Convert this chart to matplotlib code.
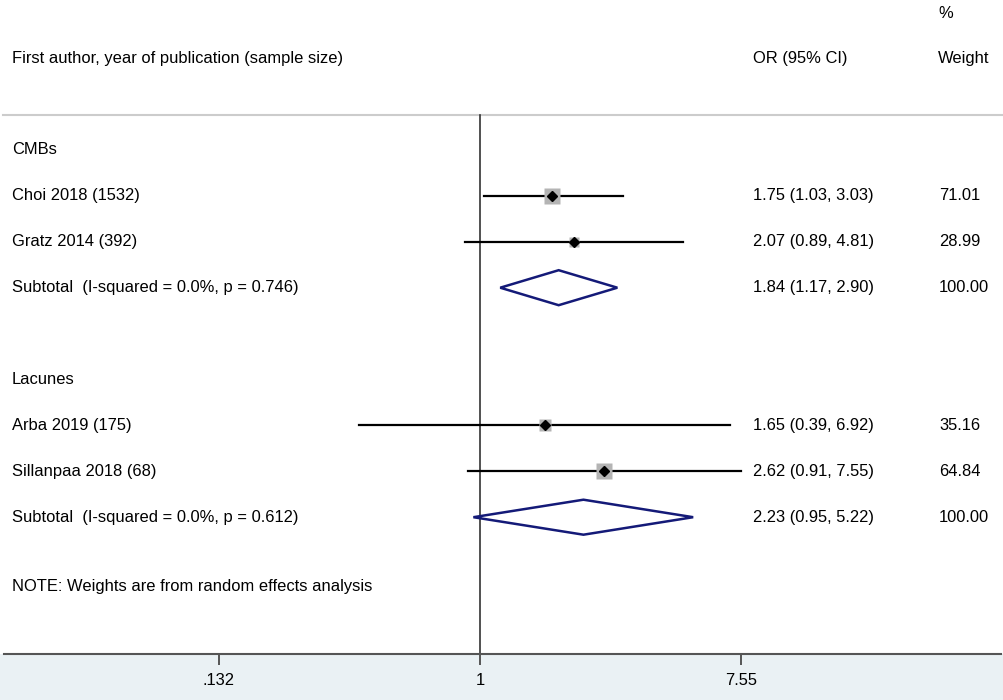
import numpy as np
import matplotlib
matplotlib.use("Agg")
import matplotlib.pyplot as plt
from matplotlib.patches import Polygon

# study level data
studies = ["Choi 2018 (1532)", "Gratz 2014 (392)", "Arba 2019 (175)", "Sillanpaa 2018 (68)"]
or_est = [1.75, 2.07, 1.65, 2.62]
ci_lo = [1.03, 0.89, 0.39, 0.91]
ci_hi = [3.03, 4.81, 6.92, 7.55]
weights = [71.01, 28.99, 35.16, 64.84]
study_group = [0, 0, 1, 1]

# subgroup pooled estimates
groups = ["CMBs", "Lacunes"]
sub_est = [1.84, 2.23]
sub_lo = [1.17, 0.95]
sub_hi = [2.90, 5.22]
sub_i2 = ["0.0%", "0.0%"]
sub_p = ["0.746", "0.612"]

ticks = [0.132, 1, 7.55]
tick_labels = [".132", "1", "7.55"]

plt.rcParams['font.family'] = ['Liberation Sans', 'DejaVu Sans']
FS = 11.9

fig = plt.figure(figsize=(10.04, 7.0), dpi=100)
fig.patch.set_facecolor('#eaf1f4')
ax = fig.add_axes([0, 46 / 700, 1, 654 / 700])
ax.set_facecolor('white')

# pixel mapping: 1 at x=480, 129 px per ln unit
ppl = 129.0
x0 = 480.0
ax.set_xscale('log')
ax.set_xlim(np.exp(-x0 / ppl), np.exp((1004 - x0) / ppl))
ax.set_ylim(654, 0)


def px(x):
    # pixel column -> data x
    return np.exp((x - x0) / ppl)


for s in ['top', 'left', 'right']:
    ax.spines[s].set_visible(False)
ax.spines['bottom'].set_color('#555555')
ax.spines['bottom'].set_linewidth(1.5)
ax.spines['bottom'].set_bounds(px(4), px(1001))
ax.set_yticks([])
ax.set_xticks(ticks)
ax.set_xticklabels(tick_labels)
ax.xaxis.set_minor_locator(matplotlib.ticker.NullLocator())
ax.tick_params(axis='x', direction='out', length=8, width=1.4, color='#555555',
               labelsize=FS, pad=5.5)

# header
ax.text(px(12), 59, "First author, year of publication (sample size)", fontsize=FS, va='center')
ax.text(px(753), 59, "OR (95% CI)", fontsize=FS, va='center')
ax.text(px(938), 59, "Weight", fontsize=FS, va='center')
ax.text(px(938), 14, "%", fontsize=FS, va='center')
ax.plot([px(3), px(1004)], [115, 115], color='#cccccc', lw=1.5, clip_on=False)
ax.plot([1, 1], [115, 654], color='#333333', lw=1.2)

step = 45.9
y = 150.0
for g in range(len(groups)):
    ax.text(px(12), y, groups[g], fontsize=FS, va='center')
    y += step
    for i in range(len(studies)):
        if study_group[i] != g:
            continue
        ax.plot([ci_lo[i], ci_hi[i]], [y, y], color='black', lw=1.6, zorder=2)
        ax.plot(or_est[i], y, marker='s', ms=1.37 * np.sqrt(weights[i]),
                color='#b4b4b4', mec='none', zorder=3)
        ax.plot(or_est[i], y, marker='D', ms=5.5, color='black', zorder=4)
        ax.text(px(12), y, studies[i], fontsize=FS, va='center')
        ax.text(px(753), y, "%.2f (%.2f, %.2f)" % (or_est[i], ci_lo[i], ci_hi[i]),
                fontsize=FS, va='center')
        ax.text(px(939), y, "%.2f" % weights[i], fontsize=FS, va='center')
        y += step
    h = 17.5
    dia = Polygon([[sub_lo[g], y], [sub_est[g], y - h], [sub_hi[g], y], [sub_est[g], y + h]],
                  closed=True, fill=False, edgecolor='#141a78', lw=1.8, zorder=3)
    ax.add_patch(dia)
    ax.text(px(12), y, "Subtotal  (I-squared = %s, p = %s)" % (sub_i2[g], sub_p[g]),
            fontsize=FS, va='center')
    ax.text(px(753), y, "%.2f (%.2f, %.2f)" % (sub_est[g], sub_lo[g], sub_hi[g]),
            fontsize=FS, va='center')
    ax.text(px(939), y, "100.00", fontsize=FS, va='center')
    y += 2 * step

ax.text(px(12), 586, "NOTE: Weights are from random effects analysis", fontsize=FS, va='center')

fig.savefig("out.png", dpi=100, facecolor=fig.get_facecolor())
